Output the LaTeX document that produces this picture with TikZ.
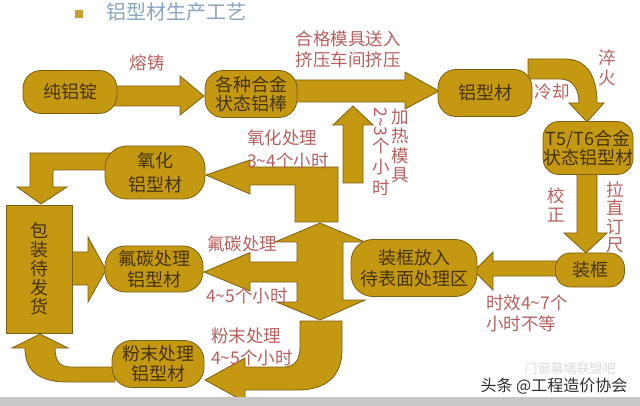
\documentclass[tikz,border=0pt]{standalone}
\usepackage{fontspec}
\newfontfamily\cjk{Noto Sans CJK SC}
\definecolor{gold}{RGB}{196,152,16}
\definecolor{goldline}{RGB}{125,95,20}
\definecolor{boxtext}{RGB}{70,52,14}
\definecolor{lbl}{RGB}{184,96,94}
\definecolor{titleblue}{RGB}{138,164,196}
\definecolor{bulletc}{RGB}{200,160,48}
\definecolor{barg}{RGB}{200,200,200}
\begin{document}
\begin{tikzpicture}[x=1pt,y=-1pt,
  barrow/.style={fill=gold,draw=goldline,line width=0.8pt,line join=miter},
  box/.style={fill=gold,draw=goldline,line width=0.8pt,rounded corners=#1,inner sep=0pt,align=center,text=boxtext,font={\cjk\fontsize{18}{20}\selectfont}},
  box/.default=18pt,
  lab/.style={text=lbl,font={\cjk\fontsize{17.5}{21}\selectfont},inner sep=0pt},
  vlab/.style={lab,align=center},
]
\useasboundingbox (0,0) rectangle (640,406);
\fill[white] (0,0) rectangle (640,406);
% title
\fill[bulletc] (75,10) rectangle (83,18);
\node[anchor=west,text=titleblue,font={\cjk\fontsize{20}{24}\selectfont},inner sep=0pt] (title) at (106,12) {铝型材生产工艺};

% block arrows
\draw[barrow] (110,86) -- (180,86) -- (180,76) -- (204,96) -- (180,115) -- (180,106) -- (110,106) -- cycle;
\draw[barrow] (290,80) -- (405,80) -- (405,72) -- (439,91) -- (405,109) -- (405,102) -- (290,102) -- cycle;
\draw[barrow] (528,59) -- (565,59) .. controls (586,59) and (597,75) .. (597,103) -- (604,103) -- (587,122) -- (569,103) -- (579,103) .. controls (579,88) and (572,79) .. (560,79) -- (528,79) -- cycle;
\draw[barrow] (577,170) -- (597,170) -- (597,233) -- (607,233) -- (586,253) -- (564,233) -- (577,233) -- cycle;
\draw[barrow] (560,261) -- (493,261) -- (493,252) -- (474,271) -- (493,290) -- (493,276) -- (560,276) -- cycle;
\draw[barrow] (343,183) -- (343,125) -- (333,125) -- (353,106) -- (373,125) -- (363,125) -- (363,183) -- cycle;
\draw[barrow] (206,175) -- (250,160) -- (250,167) -- (338,167) -- (338,222) -- (295,222) -- (295,185) -- (250,185) -- (250,194) -- cycle;
\draw[barrow] (204,272) -- (250,252.6) -- (250,262) -- (297,262) -- (297,242) -- (275,242) -- (320,223) -- (365,242) -- (343,242) -- (343,300) -- (365,300) -- (320,320) -- (276.5,302) -- (297,302) -- (297,282) -- (250,282) -- (250,291) -- cycle;
\draw[barrow] (300,321) -- (342,321) -- (342,350) .. controls (342,376) and (326,390) .. (298,390) -- (245,390) -- (245,402) -- (205,380) -- (245,358) -- (245,367) -- (284,367) .. controls (294,367) and (300,360) .. (300,348) -- cycle;
\draw[barrow] (115,367) -- (70,367) .. controls (60,367) and (55,361) .. (55,348) -- (68,348) -- (40,334) -- (12,348) -- (25,348) .. controls (25,372) and (40,382) .. (68,382) -- (115,382) -- cycle;
\draw[barrow] (110,153) -- (30,153) -- (30,187) -- (17,187) -- (41,204) -- (67,187) -- (53,187) -- (53,170) -- (110,170) -- cycle;
\draw[barrow] (65,252) -- (88,252) -- (88,237) -- (106,270) -- (88,302) -- (88,285) -- (65,285) -- cycle;

% nodes
\node[box,minimum width=94pt,minimum height=43pt] (n1) at (70,92) {纯铝锭};
\node[box,minimum width=92pt,minimum height=47pt,font={\cjk\fontsize{18}{19.5}\selectfont}] (n2) at (251,94) {各种合金\\状态铝棒};
\node[box,minimum width=94pt,minimum height=47pt] (n3) at (485,93) {铝型材};
\node[box=16pt,minimum width=90pt,minimum height=53pt,font={\cjk\fontsize{18}{18.5}\selectfont}] (n4) at (588,148) {T5/T6合金\\状态铝型材};
\node[box=15pt,minimum width=69pt,minimum height=34pt] (n5) at (590,270) {装框};
\node[box=22pt,minimum width=126pt,minimum height=57pt,font={\cjk\fontsize{18}{20.5}\selectfont}] (n6) at (414,268) {装框放入\\待表面处理区};
\node[box=22pt,minimum width=100pt,minimum height=53pt,font={\cjk\fontsize{18}{24}\selectfont}] (n7) at (155,172.5) {氧化\\铝型材};
\node[box=20pt,minimum width=98pt,minimum height=46pt,font={\cjk\fontsize{18}{21}\selectfont}] (n8) at (154,269) {氟碳处理\\铝型材};
\node[box=20pt,minimum width=92pt,minimum height=47pt,font={\cjk\fontsize{18}{20}\selectfont}] (n9) at (158,364) {粉末处理\\铝型材};
\node[box=0pt,minimum width=66pt,minimum height=128pt,font={\cjk\fontsize{18}{19}\selectfont}] (n10) at (39,269) {包\\装\\待\\发\\货};

% labels
\node[lab] (l1) at (147,63) {熔铸};
\node[lab,align=center] (l2) at (348,49) {合格模具送入\\挤压车间挤压};
\node[lab] (l3) at (552,91.5) {冷却};
\node[vlab,font={\cjk\fontsize{17.5}{20}\selectfont}] (l4) at (607,68) {淬\\火};
\node[vlab,font={\cjk\fontsize{17.5}{19}\selectfont}] (l5) at (556,204.5) {校\\正};
\node[vlab,font={\cjk\fontsize{17.5}{18.5}\selectfont}] (l6) at (615,217.5) {拉\\直\\订\\尺};
\node[vlab,font={\cjk\fontsize{17.5}{19.3}\selectfont}] (l7) at (400,146) {加\\热\\模\\具};
\node[lab,rotate=-90] (l8) at (381,122) {2\textasciitilde3};
\node[vlab,font={\cjk\fontsize{17.5}{21}\selectfont}] (l9) at (381,167) {个\\小\\时};
\node[lab,align=left,anchor=west,font={\cjk\fontsize{17.5}{23}\selectfont}] (l10) at (247,149) {氧化处理\\3\textasciitilde4个小时};
\node[lab,anchor=west] (l11) at (207,244) {氟碳处理};
\node[lab,anchor=west] (l12) at (206,296) {4\textasciitilde5个小时};
\node[lab,align=left,anchor=west,font={\cjk\fontsize{17.5}{22}\selectfont}] (l13) at (211,347) {粉末处理\\4\textasciitilde5个小时};
\node[lab,align=left,anchor=west,font={\cjk\fontsize{17.5}{21}\selectfont}] (l14) at (486,313.5) {时效4\textasciitilde7个\\小时不等};

% watermark
\node[text=black!14,font={\cjk\fontsize{13}{15}\selectfont},inner sep=0pt] (w1) at (570,369) {门窗幕墙联盟吧};
\node[text={rgb,255:red,45;green,45;blue,45},font={\cjk\fontsize{16}{18}\selectfont},inner sep=0pt] (w2) at (554,386) {头条 @工程造价协会};
\fill[barg] (0,397) rectangle (640,406);
\end{tikzpicture}
\end{document}
